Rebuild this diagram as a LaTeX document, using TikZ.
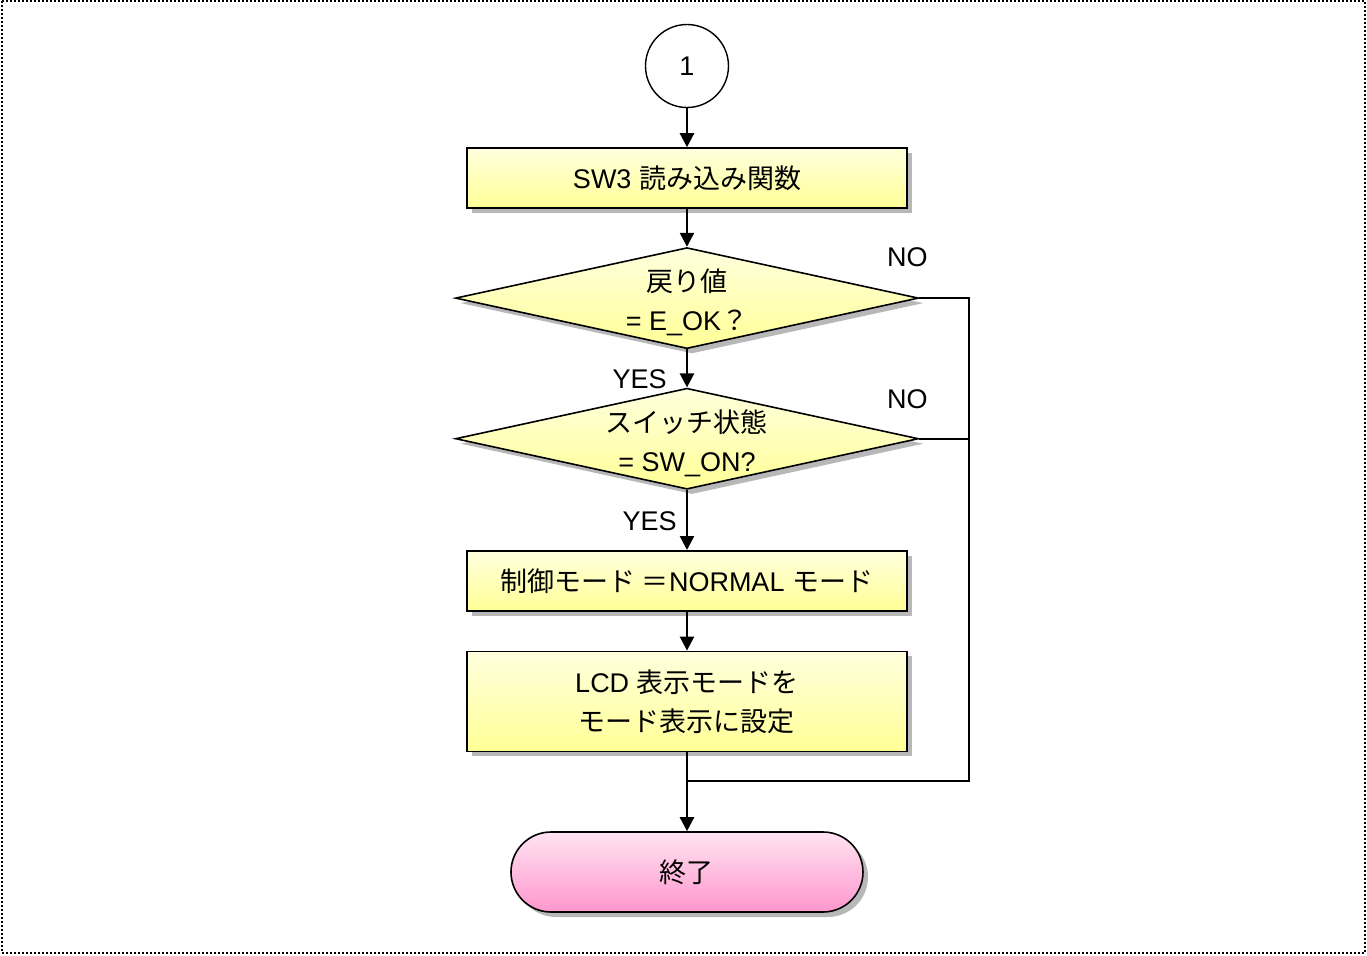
\documentclass[tikz,border=0pt]{standalone}
\usepackage{fontspec}
\setmainfont{Liberation Sans}
\newfontfamily\jp{Noto Sans CJK JP}
\usepackage{tikz}
\usetikzlibrary{arrows.meta,positioning,calc,shapes.geometric,shadows}
\definecolor{boxtop}{RGB}{255,255,222}
\definecolor{boxbot}{RGB}{255,255,150}
\definecolor{endtop}{RGB}{255,228,242}
\definecolor{endbot}{RGB}{255,150,205}
\newcommand{\topstrut}{\rule{0pt}{15.5pt}}

\begin{document}
\begin{tikzpicture}[>={Triangle[length=7pt,width=7pt]},node distance=19.5pt,every node/.style={font=\fontsize{13.5}{19.5}\selectfont},
  shad/.style={drop shadow={shadow xshift=2.5pt,shadow yshift=-2.5pt,fill=black!35,opacity=.8}},
  proc/.style={draw,line width=0.8pt,shad,top color=boxtop,bottom color=boxbot,align=center,minimum width=220pt,minimum height=30pt},
  test/.style={draw,line width=0.8pt,diamond,aspect=4.68,inner sep=-4pt,shad,top color=boxtop,bottom color=boxbot,align=center,minimum width=231.5pt,minimum height=50.5pt,font=\fontsize{13.5}{21}\selectfont},
  term/.style={draw,line width=0.8pt,rounded corners=20pt,shad,top color=endtop,bottom color=endbot,minimum width=176pt,minimum height=40pt},
  conn/.style={draw,circle,line width=0.7pt,minimum size=41.5pt,inner sep=0pt},
  lbl/.style={inner sep=0pt},
  flow/.style={->,line width=1.2pt},
  frame/.style={draw=black,line width=1pt,dash pattern=on 1pt off 1pt}]
\useasboundingbox (-343.5pt,33pt) rectangle (340pt,-444.5pt);
\draw[frame] (-342.5pt,32.5pt) rectangle (339pt,-443.5pt);
\node[conn] (c1) at (0,0) {1};
\node[proc,below=19.5pt of c1] (b1) {SW3 {\jp 読み込み関数}};
\node[test,below=19pt of b1] (d1) {\topstrut{\jp 戻り値}\\[-1.5pt]= E\_OK{\jp ？}};
\node[test,below=19pt of d1] (d2) {\topstrut{\jp スイッチ状態}\\[-1.5pt]= SW\_ON?};
\node[proc,below=30pt of d2] (b2) {{\jp 制御モード\ ＝}NORMAL {\jp モード}};
\node[proc,minimum height=50pt,below=of b2] (b3) {LCD {\jp 表示モードを}\\{\jp モード表示に設定}};
\node[term,below=39.5pt of b3] (t1) {{\jp 終了}};
\coordinate (bus) at ($(d1.east)+(25pt,0)$);
\coordinate (mrg) at ($(b3.south)+(0,-14.5pt)$);
\node[lbl] (no1) at ($(d1.east)+(-6pt,20.25pt)$) {NO};
\node[lbl] (no2) at ($(d2.east)+(-6pt,20pt)$) {NO};
\node[lbl,anchor=east] (yes1) at ($(d1.south)+(-10pt,-15pt)$) {YES};
\node[lbl,anchor=east] (yes2) at ($(d2.south)+(-5pt,-15.5pt)$) {YES};
\draw[flow] (c1)--(b1);\draw[flow] (b1)--(d1);\draw[flow] (d1)--(d2);\draw[flow] (d2)--(b2);\draw[flow] (b2)--(b3);\draw[flow] (b3)--(t1);
\draw[line width=1.2pt] (d1.east)--(bus)|-(mrg);
\draw[line width=1.2pt] (d2.east)--(d2.east-|bus);
\end{tikzpicture}
\end{document}
